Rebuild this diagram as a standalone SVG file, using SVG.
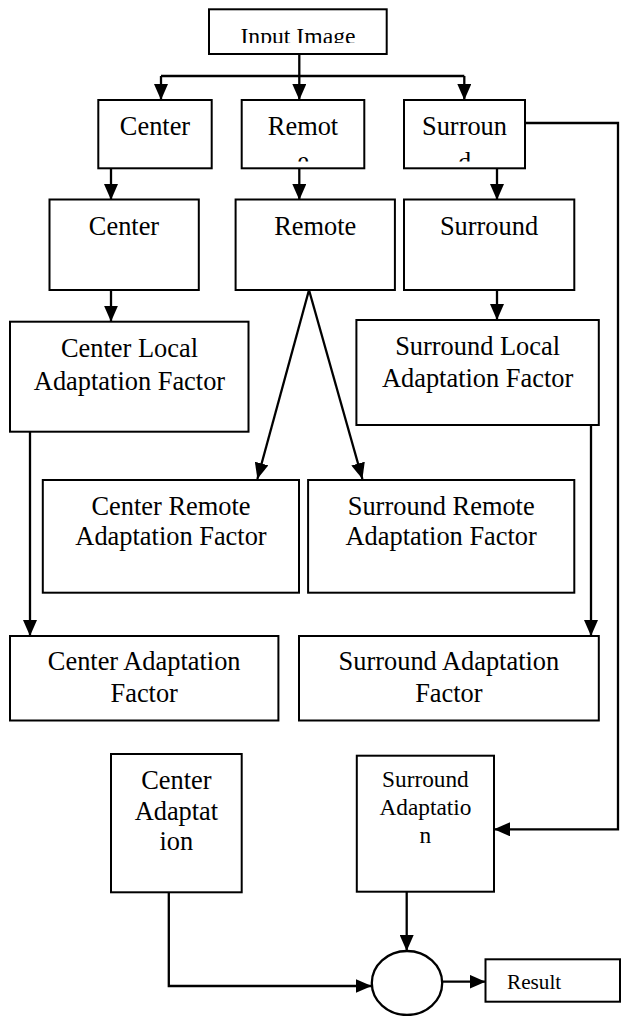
<svg xmlns="http://www.w3.org/2000/svg" width="621" height="1016" viewBox="0 0 621 1016">
<style>
.box{fill:#fff;stroke:#000;stroke-width:2}
.t{font-family:"Liberation Serif","Times New Roman",serif;font-size:26.4px;fill:#000;text-anchor:middle}
.c{fill:none;stroke:#000;stroke-width:2.3}
</style>
<defs>
<marker id="ah" markerUnits="userSpaceOnUse" markerWidth="16" markerHeight="14" refX="16" refY="7" orient="auto">
<path d="M0,0 L16,7 L0,14 Z" fill="#000"/>
</marker>
<clipPath id="clipInput"><rect x="209" y="9" width="178" height="34"/></clipPath>
<clipPath id="clipRow1"><rect x="0" y="100" width="621" height="61.5"/></clipPath>
</defs>
<rect width="621" height="1016" fill="#fff"/>

<g id="connectors">
<path class="c" d="M299.3,54 V76"/>
<path class="c" d="M161,76 H464.3"/>
<path class="c" d="M161,76 V100" marker-end="url(#ah)"/>
<path class="c" d="M299.3,76 V100" marker-end="url(#ah)"/>
<path class="c" d="M464.3,76 V100" marker-end="url(#ah)"/>
<path class="c" d="M111,168.3 V200" marker-end="url(#ah)"/>
<path class="c" d="M299.3,168.3 V200" marker-end="url(#ah)"/>
<path class="c" d="M497,168.3 V200" marker-end="url(#ah)"/>
<path class="c" d="M111,290 V321.7" marker-end="url(#ah)"/>
<path class="c" d="M497,290 V320" marker-end="url(#ah)"/>
<path class="c" d="M309,290 L257.4,479" marker-end="url(#ah)"/>
<path class="c" d="M309,290 L362.4,479" marker-end="url(#ah)"/>
<path class="c" d="M30,431.7 V636" marker-end="url(#ah)"/>
<path class="c" d="M591,425 V636" marker-end="url(#ah)"/>
<path class="c" d="M525,123 H618 V829.3 H494" marker-end="url(#ah)"/>
<path class="c" d="M168.8,892.3 V986 H371.7" marker-end="url(#ah)"/>
<path class="c" d="M406.7,891.7 V951" marker-end="url(#ah)"/>
<path class="c" d="M442,981.7 H485.5" marker-end="url(#ah)"/>
</g>

<g id="input-image">
<rect class="box" x="209" y="9.3" width="177.7" height="44.7"/>
<text class="t" x="298" y="44.2" style="font-size:23.7px" clip-path="url(#clipInput)">Input Image</text>
</g>

<g id="center-1">
<rect class="box" x="98.3" y="100" width="113.4" height="68.3"/>
<text class="t" x="155" y="135">Center</text>
</g>
<g id="remote-1">
<rect class="box" x="241.7" y="100" width="122.6" height="68.3"/>
<text class="t" x="303" y="135" clip-path="url(#clipRow1)">Remot<tspan x="303" y="170">e</tspan></text>
</g>
<g id="surround-1">
<rect class="box" x="404" y="100" width="121" height="68.3"/>
<text class="t" x="464.5" y="135" clip-path="url(#clipRow1)">Surroun<tspan x="464.5" y="171">d</tspan></text>
</g>

<g id="center-2">
<rect class="box" x="49.5" y="199.5" width="149.3" height="90.5"/>
<text class="t" x="124" y="235">Center</text>
</g>
<g id="remote-2">
<rect class="box" x="235.6" y="199.5" width="159.3" height="90.5"/>
<text class="t" x="315.3" y="235">Remote</text>
</g>
<g id="surround-2">
<rect class="box" x="404" y="199.5" width="170.3" height="90.5"/>
<text class="t" x="489" y="235">Surround</text>
</g>

<g id="center-local">
<rect class="box" x="10" y="321.7" width="238.5" height="110"/>
<text class="t" x="129.5" y="356.7">Center Local</text>
<text class="t" x="129.5" y="390">Adaptation Factor</text>
</g>
<g id="surround-local">
<rect class="box" x="356.4" y="320" width="242.4" height="105"/>
<text class="t" x="477.6" y="355">Surround Local</text>
<text class="t" x="477.6" y="386.7">Adaptation Factor</text>
</g>

<g id="center-remote">
<rect class="box" x="42.8" y="480" width="256.2" height="112.7"/>
<text class="t" x="171" y="515">Center Remote</text>
<text class="t" x="171" y="545">Adaptation Factor</text>
</g>
<g id="surround-remote">
<rect class="box" x="308.1" y="480" width="266.2" height="112.7"/>
<text class="t" x="441.2" y="515">Surround Remote</text>
<text class="t" x="441.2" y="545">Adaptation Factor</text>
</g>

<g id="center-adaptation-factor">
<rect class="box" x="10" y="636" width="268.4" height="84.5"/>
<text class="t" x="144.2" y="670">Center Adaptation</text>
<text class="t" x="144.2" y="701.7">Factor</text>
</g>
<g id="surround-adaptation-factor">
<rect class="box" x="299" y="636" width="299.8" height="84.5"/>
<text class="t" x="448.9" y="670">Surround Adaptation</text>
<text class="t" x="448.9" y="701.7">Factor</text>
</g>

<g id="center-adaptation">
<rect class="box" x="111" y="754" width="130.7" height="138.3"/>
<text class="t" x="176.4" y="789">Center</text>
<text class="t" x="176.4" y="820">Adaptat</text>
<text class="t" x="176.4" y="850">ion</text>
</g>
<g id="surround-adaptation">
<rect class="box" x="356.8" y="755.7" width="137.2" height="136"/>
<text class="t" x="425.4" y="786.7" style="font-size:23.3px">Surround</text>
<text class="t" x="425.4" y="815" style="font-size:23.3px">Adaptatio</text>
<text class="t" x="425.4" y="843.3" style="font-size:23.3px">n</text>
</g>

<g id="combiner">
<ellipse cx="407" cy="983" rx="35.2" ry="32" fill="#fff" stroke="#000" stroke-width="2.3"/>
</g>
<g id="result">
<rect class="box" x="485.5" y="959.3" width="134.5" height="42.4"/>
<text class="t" x="507" y="988.5" style="font-size:21.2px;text-anchor:start">Result</text>
</g>
</svg>
